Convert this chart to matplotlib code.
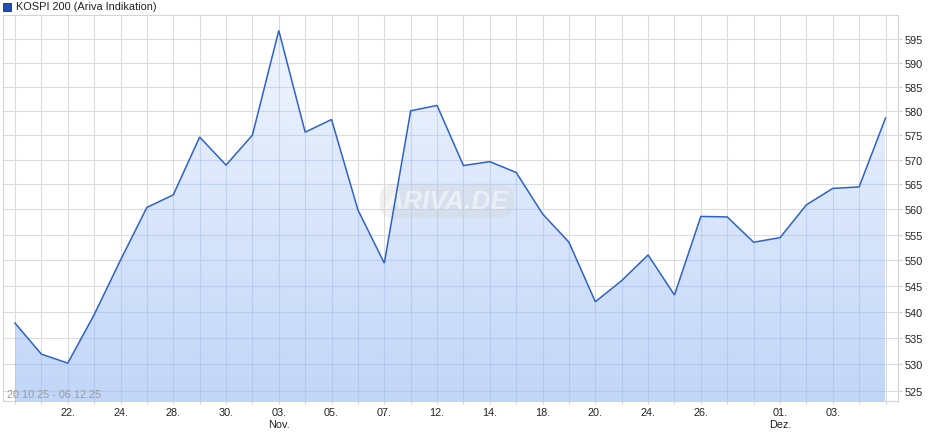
import matplotlib
matplotlib.use("Agg")
import matplotlib.pyplot as plt
import matplotlib.transforms as mtrans
import numpy as np
from matplotlib.colors import LinearSegmentedColormap
from matplotlib.ticker import FixedLocator, NullLocator

plt.rcParams['font.family'] = ['Liberation Sans', 'DejaVu Sans']

# ---- data ----
title = "KOSPI 200 (Ariva Indikation)"
period = "20.10.25 - 06.12.25"
dates = ["20.10.", "21.10.", "22.10.", "23.10.", "24.10.", "27.10.", "28.10.", "29.10.",
         "30.10.", "31.10.", "03.11.", "04.11.", "05.11.", "06.11.", "07.11.", "10.11.",
         "12.11.", "13.11.", "14.11.", "17.11.", "18.11.", "19.11.", "20.11.", "21.11.",
         "24.11.", "25.11.", "26.11.", "27.11.", "28.11.", "01.12.", "02.12.", "03.12.",
         "04.12.", "05.12."]
values = [537.8, 531.9, 530.2, 539.4, 550.0, 560.4, 562.9, 574.6,
          568.9, 575.0, 596.8, 575.6, 578.2, 559.9, 549.4, 580.0,
          581.1, 568.8, 569.6, 567.4, 559.1, 553.5, 541.9, 546.0,
          551.0, 543.2, 558.6, 558.5, 553.5, 554.4, 560.9, 564.2,
          564.5, 578.5]
tick_dates = ["22.10.", "24.10.", "28.10.", "30.10.", "03.11.", "05.11.", "07.11.",
              "12.11.", "14.11.", "18.11.", "20.11.", "24.11.", "26.11.", "01.12.", "03.12."]
tick_labels = ["22.", "24.", "28.", "30.", "03.\nNov.", "05.", "07.",
               "12.", "14.", "18.", "20.", "24.", "26.", "01.\nDez.", "03."]
y_ticks = [525, 530, 535, 540, 545, 550, 555, 560, 565, 570, 575, 580, 585, 590, 595]

# ---- figure ----
W, H = 940, 435
fig = plt.figure(figsize=(W / 100, H / 100), dpi=100)
left_px, right_px, top_px, bot_px = 3, 898, 16, 402
ax = fig.add_axes([left_px / W, 1 - bot_px / H, (right_px - left_px) / W, (bot_px - top_px) / H])

x = np.arange(len(values))
y = np.array(values)
step = (885.5 - 15) / (len(values) - 1)
ax.set_xlim(-(15 - left_px) / step, len(values) - 1 + (right_px - 885.5) / step)
ax.set_yscale('log')
ymin, ymax = 523.1, 600.1
ax.set_ylim(ymin, ymax)

grid_c = '#dcdcdc'
for xi in x:
    ax.axvline(xi, color=grid_c, lw=0.8, zorder=0)
for yv in y_ticks:
    ax.axhline(yv, color=grid_c, lw=0.8, zorder=0)

# gradient fill
cmap = LinearSegmentedColormap.from_list('g', ['#bdd3f8', '#f3f7fe'])
grad = np.linspace(0, 1, 256).reshape(-1, 1)
im = ax.imshow(grad, aspect='auto', cmap=cmap, origin='lower',
               extent=[x[0], x[-1], ymin, ymax], zorder=1, alpha=0.92)
poly = ax.fill_between(x, y, ymin, color='none', lw=0)
clip_path = poly.get_paths()[0]
im.set_clip_path(clip_path, transform=ax.transData)

# grid visible through the fill (slightly bluish)
for xi in x:
    ln = ax.axvline(xi, color='#9fb8e2', lw=0.8, zorder=1.5, alpha=0.4)
    ln.set_clip_path(clip_path, transform=ax.transData)
for yv in y_ticks:
    ln = ax.axhline(yv, color='#9fb8e2', lw=0.8, zorder=1.5, alpha=0.4)
    ln.set_clip_path(clip_path, transform=ax.transData)

ax.plot(x, y, color='#2c62c9', lw=1.1, zorder=3, solid_joinstyle='miter')

# axes styling
for s in ax.spines.values():
    s.set_color('#d4d4d4')
    s.set_linewidth(0.8)
ax.yaxis.tick_right()
ax.yaxis.set_major_locator(FixedLocator(y_ticks))
ax.yaxis.set_minor_locator(NullLocator())
ax.set_yticklabels([str(v) for v in y_ticks])
ax.tick_params(axis='y', which='both', length=3, width=0.8, color='#d4d4d4',
               pad=2, labelsize=7.8, labelcolor='#222222')

tick_pos = [dates.index(d) for d in tick_dates]
ax.xaxis.set_major_locator(FixedLocator(tick_pos))
ax.xaxis.set_minor_locator(FixedLocator(list(x)))
ax.set_xticklabels(tick_labels)
ax.tick_params(axis='x', which='both', length=2, width=0.8, color='#d4d4d4',
               pad=2, labelsize=7.8, labelcolor='#222222')
for lab in ax.get_xticklabels():
    lab.set_linespacing(1.25)

# watermark
ax.text(0.496, 0.518, "ARIVA.DE", transform=ax.transAxes, ha='center', va='center',
        fontsize=19, fontweight='bold', style='italic', color='white', alpha=0.5,
        zorder=2.5,
        bbox=dict(boxstyle='round,pad=0.2,rounding_size=0.6', fc='#d0d0d0',
                  ec='none', alpha=0.3))

# period label (pixel coordinates)
fig.text(7 / W, 1 - 395 / H, period, fontsize=7.8, color='#9a9a9a',
         va='center', ha='left', zorder=5)

# title with legend square
fig.patches.append(plt.Rectangle((3 / W, 1 - 12 / H), 8 / W, 8 / H, transform=fig.transFigure,
                                 fc='#1f4fb5', ec='#0d2f80', lw=0.6))
fig.text(16 / W, 1 - 7.5 / H, title, fontsize=7.9, color='#222222', va='center', ha='left')

fig.savefig('out.png', dpi=100)
